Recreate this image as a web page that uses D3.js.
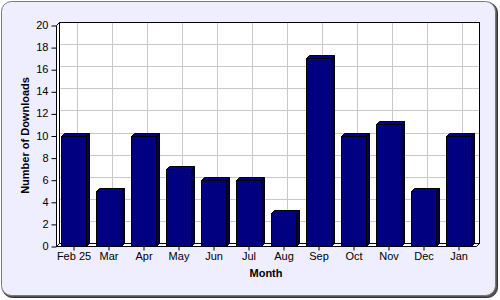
<!DOCTYPE html>
<html><head><meta charset="utf-8">
<script src="https://cdn.jsdelivr.net/npm/d3@7"></script>
<style>html,body{margin:0;padding:0;background:#fff;}svg{display:block;}</style>
</head><body><svg id="c" width="500" height="300"></svg>
<script>
const months = ["Feb 25","Mar","Apr","May","Jun","Jul","Aug","Sep","Oct","Nov","Dec","Jan"];
const downloads = [10,5,10,7,6,6,3,17,10,11,5,10];
const yTicks = [0,2,4,6,8,10,12,14,16,18,20];
const yTitle = "Number of Downloads";
const xTitle = "Month";

const svg = d3.select("#c");
const F = "Arial, 'Liberation Sans', sans-serif";
const D = 3; // 3D depth
const x0 = 56, x1 = 476, yB = 246, yT = 25;

// background
svg.append("rect").attr("x",2.5).attr("y",2.5).attr("width",495).attr("height",295).attr("rx",10)
  .attr("fill","#555").attr("stroke","#333").attr("stroke-width",1);
svg.append("rect").attr("x",1.5).attr("y",1.5).attr("width",494).attr("height",294).attr("rx",10)
  .attr("fill","#eeeeff").attr("stroke","#777").attr("stroke-width",1);

const x = d3.scaleBand().domain(months).range([x0,x1]).paddingInner(0).paddingOuter(0);
const y = d3.scaleLinear().domain([0,20]).range([yB,yT]);

// back wall
svg.append("rect").attr("x",x0+D+0.5).attr("y",yT-D+0.5).attr("width",x1-x0).attr("height",yB-yT)
  .attr("fill","#fff").attr("stroke","none");
const g = svg.append("g");
yTicks.forEach(t=>{
  g.append("line").attr("x1",x0+D).attr("x2",x1+D).attr("y1",Math.round(y(t)-D)+0.5).attr("y2",Math.round(y(t)-D)+0.5)
   .attr("stroke","#c8c8c8").attr("stroke-width",1);
});
months.forEach(m=>{
  const cx = Math.round(x(m)+x.bandwidth()/2+D)+0.5;
  g.append("line").attr("x1",cx).attr("x2",cx).attr("y1",yT-D).attr("y2",yB-D)
   .attr("stroke","#c8c8c8").attr("stroke-width",1);
});
svg.append("rect").attr("x",x0+D+0.5).attr("y",yT-D+0.5).attr("width",x1-x0).attr("height",yB-yT)
  .attr("fill","none").attr("stroke","#000").attr("stroke-width",1);

// left wall and floor slabs
const poly = pts => pts.map(p=>p.join(",")).join(" ");
svg.append("polygon").attr("points",poly([[x0+0.5,yT+0.5],[x0+D+0.5,yT-D+0.5],[x0+D+0.5,yB-D+0.5],[x0+0.5,yB+0.5]]))
  .attr("fill","#fff").attr("stroke","#000").attr("stroke-width",1);
svg.append("polygon").attr("points",poly([[x0+0.5,yB+0.5],[x0+D+0.5,yB-D+0.5],[x1+D+0.5,yB-D+0.5],[x1+0.5,yB+0.5]]))
  .attr("fill","#fff").attr("stroke","#000").attr("stroke-width",1);

// bars
const bw = 25;
months.forEach((m,i)=>{
  const v = downloads[i];
  const l = Math.round(x(m)+x.bandwidth()/2-bw/2)+0.5;
  const r = l+bw;
  const t = Math.round(y(v))+0.5;
  const b = yB+0.5;
  svg.append("polygon").attr("points",poly([[l,t],[l+D,t-D],[r+D,t-D],[r,t]]))
    .attr("fill","#000090").attr("stroke","#000").attr("stroke-width",1);
  svg.append("polygon").attr("points",poly([[r,t],[r+D,t-D],[r+D,b-D],[r,b]]))
    .attr("fill","#000050").attr("stroke","#000").attr("stroke-width",1);
  svg.append("rect").attr("x",l).attr("y",t).attr("width",bw).attr("height",b-t)
    .attr("fill","#000080").attr("stroke","#000").attr("stroke-width",1);
});

// y axis
const yAxis = svg.append("g").attr("transform",`translate(${x0+0.5},0)`)
  .call(d3.axisLeft(y).tickValues(yTicks).tickSize(5).tickPadding(3).tickFormat(d3.format("d")));
yAxis.select(".domain").remove();
yAxis.selectAll("line").attr("stroke","#000").attr("transform","translate(0,0.5)");
yAxis.selectAll("text").attr("font-family",F).attr("font-size","11px").attr("fill","#000");

// x axis
const xAxis = svg.append("g").attr("transform",`translate(0.5,${yB+0.5})`)
  .call(d3.axisBottom(x).tickSize(4).tickPadding(2));
xAxis.select(".domain").remove();
xAxis.selectAll("line").attr("stroke","#000");
xAxis.selectAll("text").attr("font-family",F).attr("font-size","11px").attr("fill","#000");

// titles
svg.append("text").attr("x",(x0+x1)/2).attr("y",277).attr("text-anchor","middle")
  .attr("font-family",F).attr("font-size","11px").attr("font-weight","bold").text(xTitle);
svg.append("text").attr("transform",`translate(29,${(yT+yB)/2}) rotate(-90)`).attr("text-anchor","middle")
  .attr("font-family",F).attr("font-size","11px").attr("font-weight","bold").text(yTitle);
</script></body></html>
